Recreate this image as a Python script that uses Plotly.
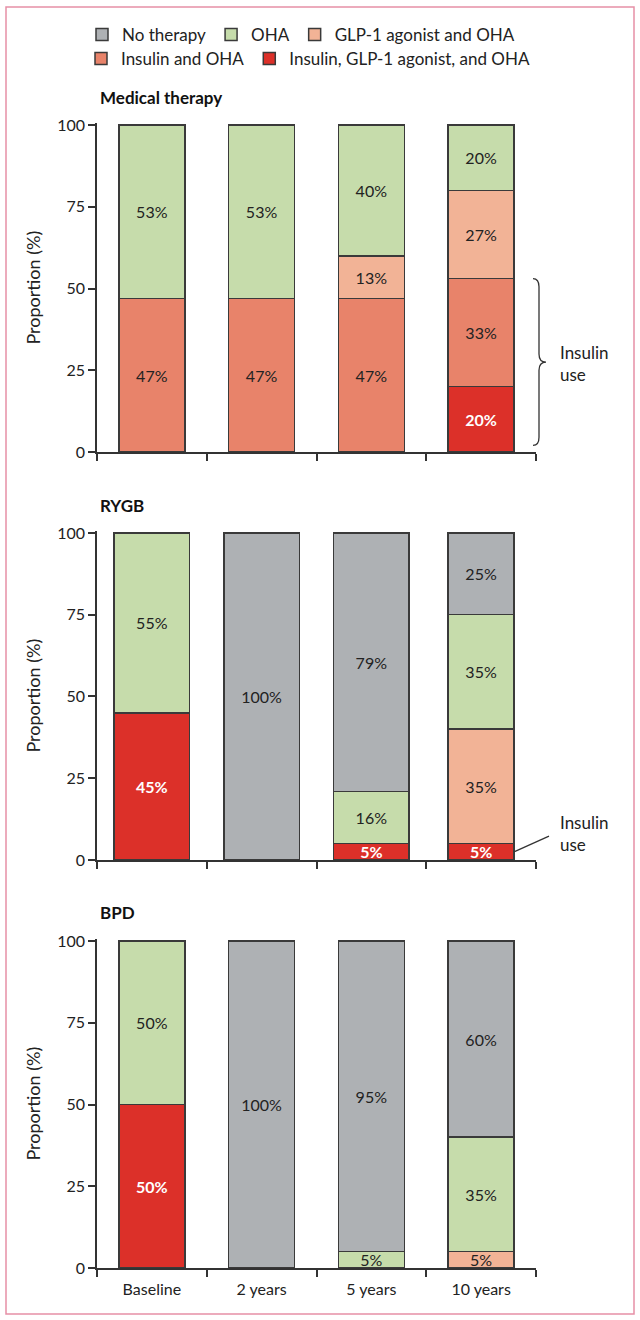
import plotly.graph_objects as go
from plotly.subplots import make_subplots

categories = ["Baseline", "2 years", "5 years", "10 years"]
panels = ["Medical therapy", "RYGB", "BPD"]
series_names = ["Insulin, GLP-1 agonist, and OHA", "Insulin and OHA",
                "GLP-1 agonist and OHA", "OHA", "No therapy"]

# values per panel, per series (bottom to top stacking order)
medical = {
    "Insulin, GLP-1 agonist, and OHA": [0, 0, 0, 20],
    "Insulin and OHA": [47, 47, 47, 33],
    "GLP-1 agonist and OHA": [0, 0, 13, 27],
    "OHA": [53, 53, 40, 20],
    "No therapy": [0, 0, 0, 0],
}
rygb = {
    "Insulin, GLP-1 agonist, and OHA": [45, 0, 5, 5],
    "Insulin and OHA": [0, 0, 0, 0],
    "GLP-1 agonist and OHA": [0, 0, 0, 35],
    "OHA": [55, 0, 16, 35],
    "No therapy": [0, 100, 79, 25],
}
bpd = {
    "Insulin, GLP-1 agonist, and OHA": [50, 0, 0, 0],
    "Insulin and OHA": [0, 0, 0, 0],
    "GLP-1 agonist and OHA": [0, 0, 0, 5],
    "OHA": [50, 0, 5, 35],
    "No therapy": [0, 100, 95, 60],
}
panel_data = [medical, rygb, bpd]
bar_widths = [[0.60, 0.60, 0.60, 0.60], [0.69, 0.69, 0.69, 0.60], [0.60, 0.60, 0.60, 0.60]]

colors = {
    "Insulin, GLP-1 agonist, and OHA": "#dc3029",
    "Insulin and OHA": "#e8836a",
    "GLP-1 agonist and OHA": "#f2b396",
    "OHA": "#c6dcab",
    "No therapy": "#aeb1b4",
}
legend_row2 = {"Insulin, GLP-1 agonist, and OHA", "Insulin and OHA"}

W, H = 640, 1320
FONT = "Lato"
TXT = "#222222"

def px_x(p):
    return p / W

def px_y(p):
    return 1 - p / H

fig = make_subplots(rows=3, cols=1)

for r, data in enumerate(panel_data, start=1):
    for name in series_names:
        vals = data[name]
        yv = [v if v else None for v in vals]
        txt = [f"{v}%" if v else "" for v in vals]
        red = name.startswith("Insulin, GLP")
        fig.add_trace(go.Bar(
            x=categories, y=yv, name=name, text=txt,
            width=bar_widths[r - 1],
            marker=dict(color=colors[name], line=dict(color="#3a3a3a", width=1.5)),
            textposition="inside", insidetextanchor="middle", textangle=0,
            constraintext="none",
            textfont=dict(family=FONT, size=16,
                          color="white" if red else TXT,
                          weight="bold" if red else "normal"),
            legendgroup=name, showlegend=(r == 1),
            legend="legend2" if name in legend_row2 else "legend",
            hoverinfo="skip",
        ), row=r, col=1)

# axes placement (zero line / full scale pixel positions)
zero_px = [452, 860, 1268]
scale = 327 / 100.0
top_val = 100.5
for i, z in enumerate(zero_px, start=1):
    top = z - top_val * scale
    fig.update_yaxes(
        domain=[px_y(z), px_y(top)], range=[0, top_val],
        tickvals=[0, 25, 50, 75, 100], ticks="outside", ticklen=7, tickwidth=1.5,
        tickcolor="#333", showline=True, linecolor="#333", linewidth=1.5,
        showgrid=False, zeroline=False, automargin=False,
        tickfont=dict(family=FONT, size=16, color=TXT),
        title=dict(text="Proportion (%)", font=dict(family=FONT, size=18, color=TXT), standoff=12),
        row=i, col=1)
    fig.update_xaxes(
        domain=[px_x(97), px_x(536)], range=[-0.5, 3.5],
        tickson="boundaries", ticks="outside", ticklen=7, tickwidth=1.5, tickcolor="#333",
        showline=True, linecolor="#333", linewidth=1.5, showgrid=False,
        showticklabels=(i == 3), automargin=False, ticklabelstandoff=6,
        tickfont=dict(family=FONT, size=16, color=TXT),
        row=i, col=1)

annotations = []
title_y = [97, 505, 912]
for t, ty in zip(panels, title_y):
    annotations.append(dict(text=f"<b>{t}</b>", xref="paper", yref="paper",
                            x=px_x(98), y=px_y(ty), xanchor="left", yanchor="middle",
                            showarrow=False, font=dict(family=FONT, size=17, color="#111")))

# "Insulin use" labels
ins_top = medical["Insulin and OHA"][3] + medical["Insulin, GLP-1 agonist, and OHA"][3]
annotations.append(dict(text="Insulin<br>use", xref="paper", yref="y",
                        x=px_x(558), y=ins_top / 2 + 0.5,
                        xanchor="left", yanchor="middle", align="left", showarrow=False,
                        font=dict(family=FONT, size=17, color=TXT)))
annotations.append(dict(text="Insulin<br>use", xref="paper", yref="y2",
                        x=px_x(558), y=8, xanchor="left", yanchor="middle", align="left",
                        showarrow=False, font=dict(family=FONT, size=17, color=TXT)))

shapes = []
# brace in medical therapy panel spanning insulin use (10 years)
yt, yb = ins_top, 2
mid = (yt + yb) / 2
xa, xb, xc = px_x(533), px_x(539), px_x(546)
d = 2.5
path = (f"M {xa},{yt} Q {xb},{yt} {xb},{yt - d} L {xb},{mid + d} "
        f"Q {xb},{mid} {xc},{mid} Q {xb},{mid} {xb},{mid - d} "
        f"L {xb},{yb + d} Q {xb},{yb} {xa},{yb}")
shapes.append(dict(type="path", xref="paper", yref="y", path=path,
                   line=dict(color="#333", width=1.3)))
# pointer line in RYGB panel
shapes.append(dict(type="line", xref="paper", yref="y2",
                   x0=px_x(514), y0=rygb["Insulin, GLP-1 agonist, and OHA"][3] / 2,
                   x1=px_x(549), y1=7.3, line=dict(color="#333", width=1.3)))
# outer pink border
shapes.append(dict(type="rect", xref="paper", yref="paper",
                   x0=px_x(6), x1=px_x(634), y0=px_y(1314), y1=px_y(7),
                   line=dict(color="#e690a6", width=1.5)))

leg_common = dict(orientation="h", traceorder="reversed", xanchor="left", yanchor="top",
                  font=dict(family=FONT, size=17, color=TXT), itemwidth=30,
                  bgcolor="rgba(0,0,0,0)", borderwidth=0)

fig.update_layout(
    width=W, height=H, margin=dict(l=0, r=0, t=0, b=0, autoexpand=False),
    barmode="stack",
    plot_bgcolor="white", paper_bgcolor="white",
    font=dict(family=FONT, color=TXT),
    uniformtext=dict(minsize=16, mode="show"),
    legend=dict(x=px_x(82), y=px_y(17), **leg_common),
    legend2=dict(x=px_x(81), y=px_y(41), **leg_common),
    annotations=annotations, shapes=shapes,
)

fig.write_html("out.html", config={"displayModeBar": False},
               post_script="document.body.style.margin='0';")
